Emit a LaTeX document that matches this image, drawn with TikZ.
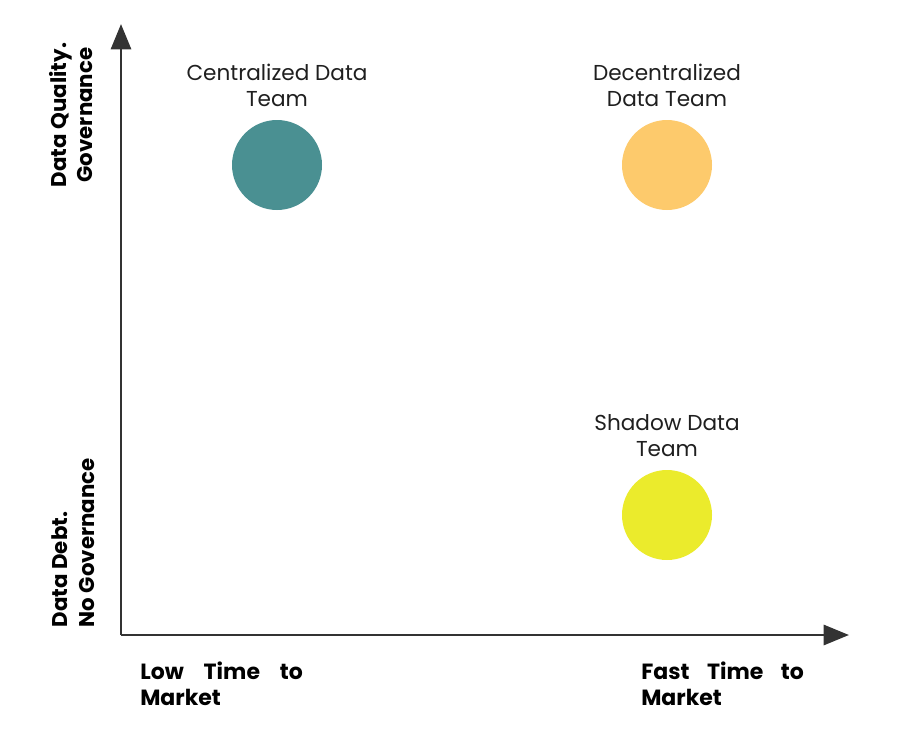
\documentclass[tikz,border=0pt]{standalone}
\usepackage{fontspec}
\setmainfont{Poppins}
\usetikzlibrary{arrows.meta, positioning}
\definecolor{axisgray}{HTML}{333333}
\definecolor{tealdot}{HTML}{4A9092}
\definecolor{orangedot}{HTML}{FDCA6C}
\definecolor{yellowdot}{HTML}{EBEB2C}

\begin{document}
\begin{tikzpicture}[
  x=0.75pt, y=-0.75pt,
  dot/.style={circle, minimum size=67.5pt, inner sep=0pt},
  team/.style={align=center, font=\fontsize{16.2}{19.5}\selectfont, text=black!88},
  axislabel/.style={font=\bfseries\fontsize{16}{20}\selectfont, rotate=90},
  marketlabel/.style={font=\bfseries\fontsize{16.5}{19.5}\selectfont, text width=122pt, align=left, anchor=north west, inner sep=0pt},
  axisarrow/.style={-{Triangle[length=19pt, width=15pt]}, line width=2.2pt, draw=axisgray},
]
  \useasboundingbox (0,0) rectangle (912,742);

  % axes
  \coordinate (origin) at (121,635);
  \coordinate (ytip) at (121,24);
  \coordinate (xtip) at (849,635);
  \draw[axisarrow] (origin) -- (ytip);
  \draw[axisarrow] (origin) -- (xtip);

  % teams
  \node[dot, fill=tealdot] (central) at (277,165) {};
  \node[dot, fill=orangedot] (decentral) at (667,165) {};
  \node[dot, fill=yellowdot] (shadow) at (667,515) {};

  \node[team, above=6pt of central] (centrallabel) {Centralized Data\\Team};
  \node[team, above=6pt of decentral] (decentrallabel) {Decentralized\\Data Team};
  \node[team, above=6pt of shadow] (shadowlabel) {Shadow Data\\Team};

  % axis labels
  \node[axislabel, align=center] (quality) at (71,115) {Data Quality.\\Governance};
  \node[axislabel, align=left, anchor=north west] (debt) at (47,632) {Data Debt.\\No Governance};
  \node[marketlabel] (low) at (140,662) {Low\hfill Time\hfill to\\Market};
  \node[marketlabel] (fast) at (641,662) {Fast\hfill Time\hfill to\\Market};
\end{tikzpicture}
\end{document}
